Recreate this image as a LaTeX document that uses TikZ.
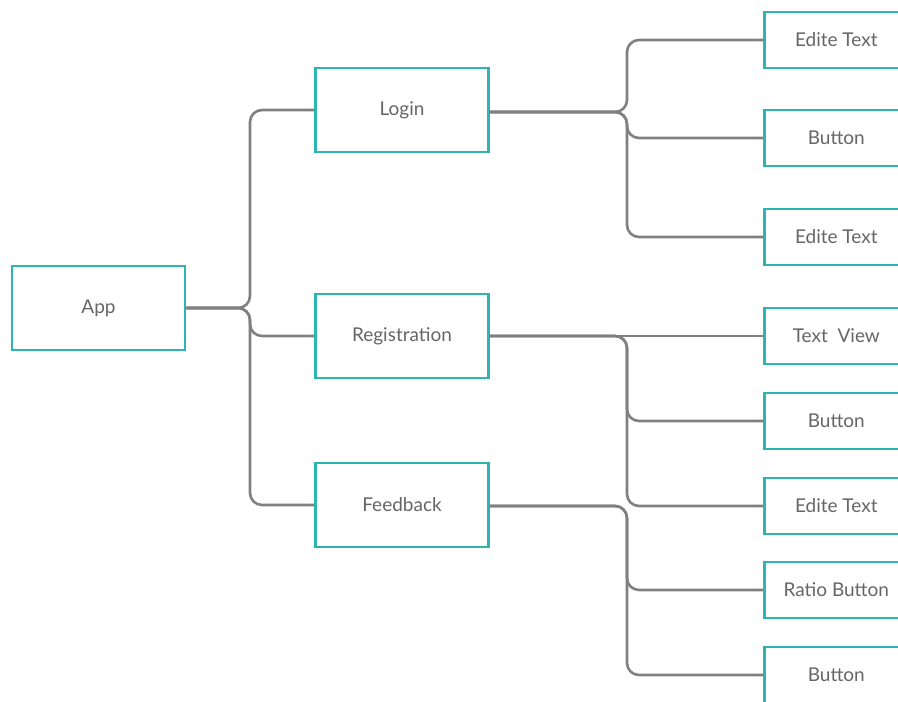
\documentclass[tikz,border=0pt]{standalone}
\usepackage{fontspec}
\setmainfont{Lato}
\definecolor{teal1}{HTML}{2CB5B2}
\definecolor{line1}{HTML}{808080}
\definecolor{txt1}{HTML}{666666}
\begin{document}
\begin{tikzpicture}[x=1pt,y=-1pt,
  box/.style={draw=teal1,line width=2.6pt,fill=white,text=txt1,font=\fontsize{19}{21}\selectfont,
    minimum width=173pt,minimum height=84pt,inner sep=0pt},
  leaf/.style={draw=teal1,line width=2.6pt,fill=white,text=txt1,font=\fontsize{19}{21}\selectfont,
    minimum width=144pt,minimum height=56pt,inner sep=0pt},
  conn/.style={draw=line1,line width=2.6pt,rounded corners=12pt}]
\useasboundingbox (0,0) rectangle (898,702);
\clip (0,0) rectangle (898,702);
\fill[white] (0,0) rectangle (898,702);
\coordinate (hA) at (250,0);
\coordinate (hB) at (627,0);
\node[box] (app) at (98.5,308) {App};
\node[box] (login) at (402,110) {Login};
\node[box] (reg) at (402,336) {Registration};
\node[box] (fb) at (402,505) {Feedback};
\node[leaf,anchor=west] (e1) at (763,40) {Edite Text};
\node[leaf,anchor=west] (e2) at (763,138) {Button};
\node[leaf,anchor=west] (e3) at (763,237) {Edite Text};
\node[leaf,anchor=west] (e4) at (763,336) {Text~ View};
\node[leaf,anchor=west] (e5) at (763,421) {Button};
\node[leaf,anchor=west] (e6) at (763,506) {Edite Text};
\node[leaf,anchor=west] (e7) at (763,590) {Ratio Button};
\node[leaf,anchor=west] (e8) at (763,675) {Button};
\draw[conn] (app.east) -- (app.east -| hA) |- (login.west);
\draw[conn] (app.east) -- (app.east -| hA) |- (reg.west);
\draw[conn] (app.east) -- (app.east -| hA) |- (fb.west);
\draw[conn] ([yshift=-2pt]login.east) -- ([yshift=-2pt]login.east -| hB) |- (e1.west);
\draw[conn] ([yshift=-2pt]login.east) -- ([yshift=-2pt]login.east -| hB) |- (e2.west);
\draw[conn] ([yshift=-2pt]login.east) -- ([yshift=-2pt]login.east -| hB) |- (e3.west);
\draw[conn] (reg.east) -- (e4.west);
\draw[conn] (reg.east) -- (reg.east -| hB) |- (e5.west);
\draw[conn] (reg.east) -- (reg.east -| hB) |- (e6.west);
\draw[conn] ([yshift=-1pt]fb.east) -- ([yshift=-1pt]fb.east -| hB) |- (e7.west);
\draw[conn] ([yshift=-1pt]fb.east) -- ([yshift=-1pt]fb.east -| hB) |- (e8.west);
\end{tikzpicture}
\end{document}
